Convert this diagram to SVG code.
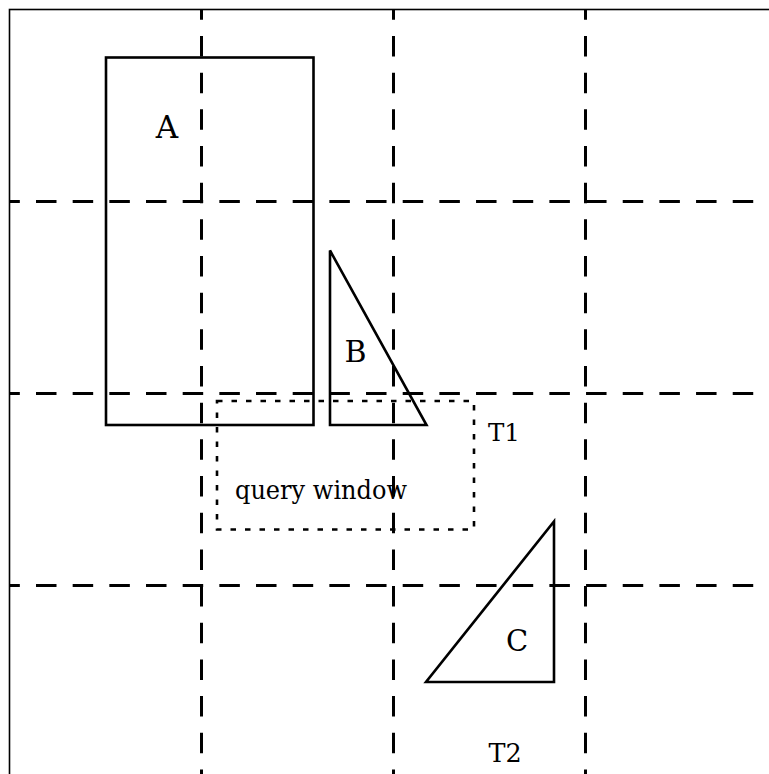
<svg xmlns="http://www.w3.org/2000/svg" width="769" height="774" viewBox="0 0 769 774">
<style>
.frame{fill:none;stroke:#000;stroke-width:1.6}
.grid line{stroke:#000;stroke-width:3;stroke-dasharray:20.5 16.17;stroke-dashoffset:9.67}
.shape{fill:none;stroke:#000;stroke-width:2.6;stroke-linejoin:miter}
.query{fill:none;stroke:#000;stroke-width:2.6;stroke-dasharray:5.5 9}
.lbl{font-family:"DejaVu Serif","Liberation Serif",serif;fill:#000}
</style>
<rect width="769" height="774" fill="#fff"/>
<rect class="frame" x="9.5" y="9.5" width="800" height="800"/>
<g id="grid" class="grid">
<line x1="9" y1="201.5" x2="769" y2="201.5"/>
<line x1="9" y1="393.5" x2="769" y2="393.5"/>
<line x1="9" y1="585.5" x2="769" y2="585.5"/>
<line x1="201.5" y1="9" x2="201.5" y2="774"/>
<line x1="393.5" y1="9" x2="393.5" y2="774"/>
<line x1="585.5" y1="9" x2="585.5" y2="774"/>
</g>
<g id="A">
<rect class="shape" x="106" y="57.5" width="207.5" height="367.5"/>
<text class="lbl" x="167" y="138" font-size="31" text-anchor="middle">A</text>
</g>
<g id="B">
<polygon class="shape" points="330,250.5 330,425 426.5,425"/>
<text class="lbl" x="355.5" y="361.5" font-size="30" text-anchor="middle">B</text>
</g>
<g id="C">
<polygon class="shape" points="554,521.5 554,682 426,682"/>
<text class="lbl" x="517" y="650.5" font-size="29" text-anchor="middle">C</text>
</g>
<g id="query-window">
<rect class="query" x="217" y="401" width="257" height="128.5"/>
<text class="lbl" x="235" y="498.5" font-size="26" textLength="172" lengthAdjust="spacingAndGlyphs">query window</text>
</g>
<g id="T1">
<text class="lbl" x="504" y="441" font-size="24.5" text-anchor="middle">T1</text>
</g>
<g id="T2">
<text class="lbl" x="505" y="762" font-size="25.5" text-anchor="middle">T2</text>
</g>
</svg>
